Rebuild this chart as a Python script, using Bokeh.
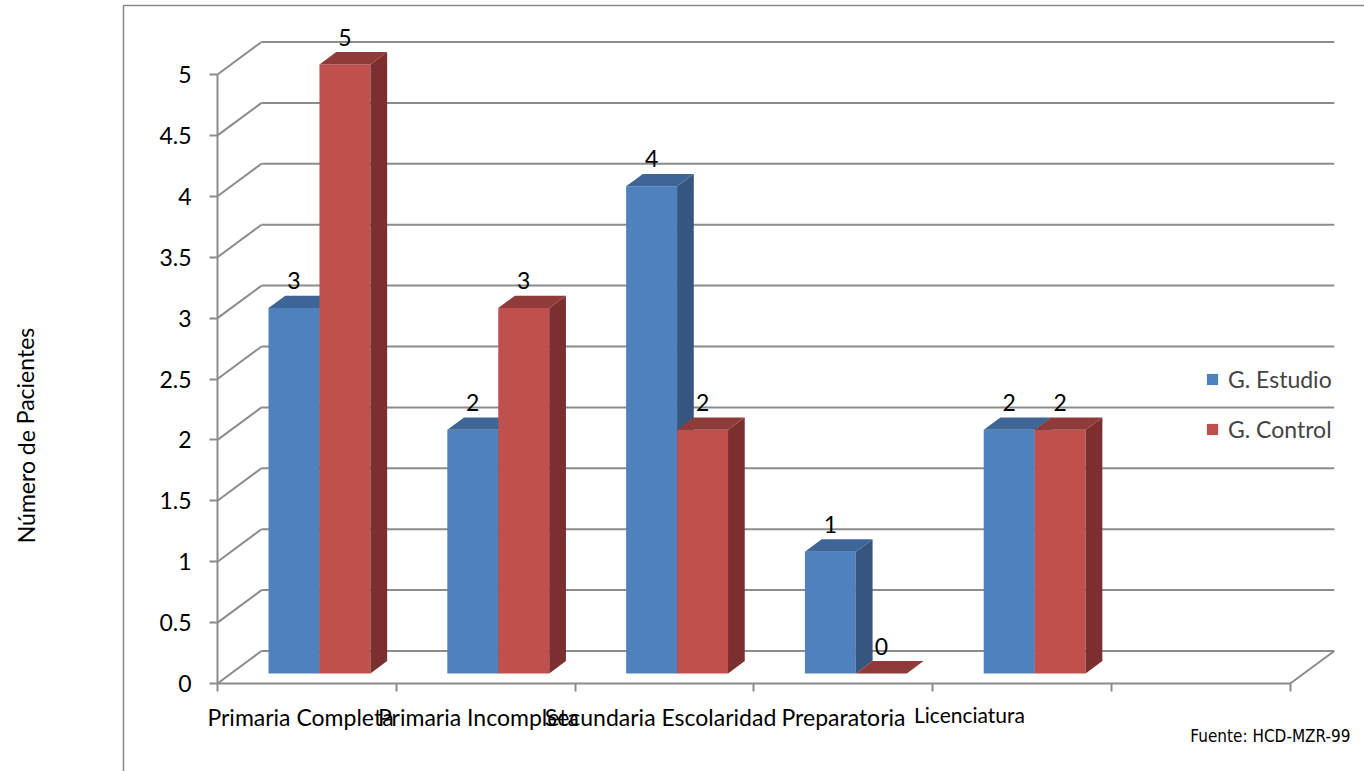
from bokeh.plotting import figure
from bokeh.models import (Range1d, LinearAxis, FixedTicker, NumeralTickFormatter,
                          CustomJSTickFormatter, Legend, LegendItem)
from bokeh.core.properties import value
from bokeh.embed import file_html
from bokeh.resources import INLINE

# ---------------- data ----------------
categories = ["Primaria Completa", "Primaria Incompleta", "Secundaria Escolaridad",
              "Preparatoria", "Licenciatura"]
estudio = [3, 2, 4, 1, 2]
control = [5, 3, 2, 0, 2]
series_names = ["G. Estudio", "G. Control"]
y_ticks = [0, 0.5, 1, 1.5, 2, 2.5, 3, 3.5, 4, 4.5, 5]
y_title = "Número de Pacientes"
source_note = "Fuente: HCD-MZR-99"
n_slots = 6

# ---------------- layout (pixels of the page) ----------------
W, H = 1364, 771
X0_PX, SLOT_PX = 217, 178.8      # x of value axis, width of one category slot
Y0_PX, UNIT_PX = 683, 121.8      # y of zero line, pixels per value unit


def xd(px):
    return (px - X0_PX) / SLOT_PX


def yd(py):
    return (Y0_PX - py) / UNIT_PX


DX = 44 / SLOT_PX     # depth of the 3D box
DY = 32.5 / UNIT_PX
F0, F1 = 0.31, 0.69   # front / back depth fraction of the bars
GAP, BW = 0.209, 0.285
FONT = "Lato"
FS = "23px"
GRID = "#8c8c8c"

BLUE = ("#4F81BD", "#36567F", "#3D6696")   # front, side, top
RED = ("#C0504D", "#7B302F", "#8F3B39")

p = figure(width=W, height=H, x_range=Range1d(xd(0), xd(W)), y_range=Range1d(yd(H), yd(0)),
           min_border=0, toolbar_location=None, output_backend="svg",
           x_axis_type=None, y_axis_type=None)
p.grid.visible = False
p.outline_line_color = None
p.background_fill_color = "white"

# chart border (cropped chart frame)
p.line([xd(123), xd(123), xd(W + 10)], [yd(H + 10), yd(5), yd(5)],
       line_color="#8a8a8a", line_width=1.5)

# back wall gridlines + side wall diagonals
p.segment(x0=[0] * len(y_ticks), y0=y_ticks, x1=[DX] * len(y_ticks),
          y1=[t + DY for t in y_ticks], line_color=GRID, line_width=2)
p.segment(x0=[DX] * len(y_ticks), y0=[t + DY for t in y_ticks],
          x1=[n_slots + DX] * len(y_ticks), y1=[t + DY for t in y_ticks],
          line_color=GRID, line_width=2)
# floor right edge
p.segment(x0=[n_slots], y0=[0], x1=[n_slots + DX], y1=[DY], line_color=GRID, line_width=2)

# ---------------- bars ----------------
ddx, ddy = (F1 - F0) * DX, (F1 - F0) * DY
bottom = F0 * DY
renderers = []
for k, (vals, cols) in enumerate([(estudio, BLUE), (control, RED)]):
    lefts = [i + GAP + F0 * DX + k * BW for i in range(len(vals))]
    rights = [l + BW for l in lefts]
    tops = [v + bottom for v in vals]
    front = p.quad(left=lefts, right=rights, bottom=[bottom] * len(vals), top=tops,
                   fill_color=cols[0], line_color=None)
    side_xs = [[r, r + ddx, r + ddx, r] for r in rights]
    side_ys = [[bottom, bottom + ddy, t + ddy, t] for t in tops]
    p.patches(side_xs, side_ys, fill_color=cols[1], line_color=None)
    top_xs = [[l, r, r + ddx, l + ddx] for l, r in zip(lefts, rights)]
    top_ys = [[t, t, t + ddy, t + ddy] for t in tops]
    p.patches(top_xs, top_ys, fill_color=cols[2], line_color=None)
    renderers.append(front)
    # value labels
    p.text(x=[(l + r) / 2 for l, r in zip(lefts, rights)], y=[t + 0.225 for t in tops],
           text=[str(v) for v in vals], text_align="center", text_baseline="middle",
           text_font=value(FONT), text_font_size=FS, text_color="black")

# ---------------- axes ----------------
yaxis = LinearAxis(fixed_location=0, bounds=(0, 5), ticker=FixedTicker(ticks=y_ticks),
                   formatter=NumeralTickFormatter(format="0.[0]"))
yaxis.axis_line_color = GRID
yaxis.axis_line_width = 2
yaxis.major_tick_line_color = GRID
yaxis.major_tick_line_width = 2
yaxis.major_tick_out = 8
yaxis.major_tick_in = 0
yaxis.minor_tick_line_color = None
yaxis.major_label_standoff = 18
yaxis.major_label_text_font = FONT
yaxis.major_label_text_font_size = FS
yaxis.major_label_text_color = "black"
p.add_layout(yaxis, "left")

label_px = [300, 478, 660, 843, 969]
cat_pos = [xd(v) for v in label_px]

xaxis = LinearAxis(fixed_location=0, bounds=(0, n_slots),
                   ticker=FixedTicker(ticks=cat_pos[:4], minor_ticks=list(range(n_slots + 1))),
                   formatter=CustomJSTickFormatter(args=dict(labels=categories[:4]),
                                                   code="return labels[index]"))
xaxis.axis_line_color = GRID
xaxis.axis_line_width = 2
xaxis.major_tick_line_color = None
xaxis.major_tick_out = 0
xaxis.major_tick_in = 0
xaxis.minor_tick_line_color = GRID
xaxis.minor_tick_line_width = 2
xaxis.minor_tick_out = 8
xaxis.minor_tick_in = 0
xaxis.major_label_standoff = 11
xaxis.major_label_text_font = FONT
xaxis.major_label_text_font_size = FS
xaxis.major_label_text_color = "black"
p.add_layout(xaxis, "below")

xaxis2 = LinearAxis(fixed_location=0, ticker=FixedTicker(ticks=cat_pos[4:]),
                    formatter=CustomJSTickFormatter(args=dict(labels=categories[4:]),
                                                    code="return labels[index]"))
xaxis2.axis_line_color = None
xaxis2.major_tick_line_color = None
xaxis2.minor_tick_line_color = None
xaxis2.major_tick_out = 0
xaxis2.major_label_standoff = 18
xaxis2.major_label_text_font = FONT
xaxis2.major_label_text_font_size = "21px"
xaxis2.major_label_text_color = "black"
p.add_layout(xaxis2, "below")

# axis title and source note
p.text(x=[xd(25)], y=[yd(435)], text=[y_title], angle=1.5708, text_align="center",
       text_baseline="middle", text_font=value(FONT), text_font_size="23px", text_color="black")
p.text(x=[xd(1350)], y=[yd(735)], text=[source_note], text_align="right",
       text_baseline="middle",
       text_font=value("DejaVu Sans Condensed, DejaVu Sans, sans-serif"),
       text_font_size="17px", text_color="black")

# ---------------- legend ----------------
legend = Legend(items=[LegendItem(label=series_names[0], renderers=[renderers[0]]),
                       LegendItem(label=series_names[1], renderers=[renderers[1]])],
                location=(1205, 328), glyph_width=14, glyph_height=14, label_height=26,
                spacing=22, padding=0, margin=0, label_standoff=9,
                border_line_color=None, background_fill_alpha=0,
                label_text_font=FONT, label_text_font_size=FS)
p.add_layout(legend)

open("out.html", "w").write(file_html(p, INLINE))
